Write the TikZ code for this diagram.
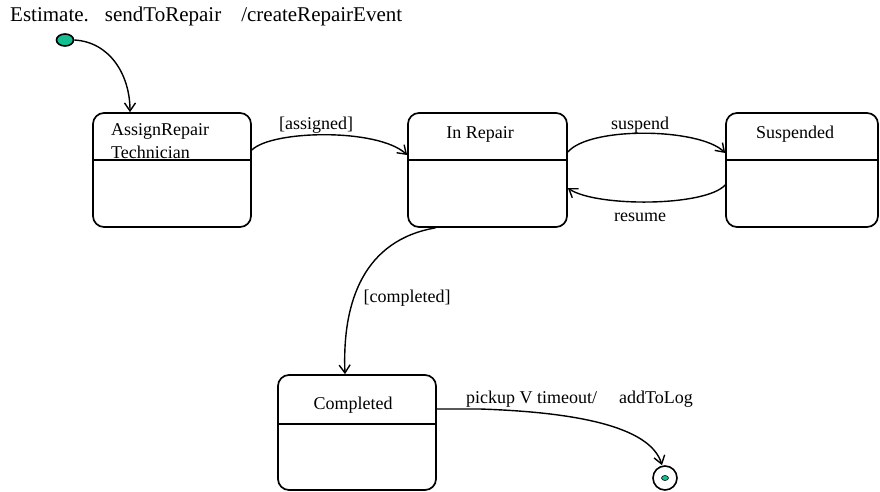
\documentclass[tikz,border=0pt]{standalone}
\usepackage{fontspec}
\setmainfont{Liberation Serif}
\usetikzlibrary{arrows.meta,shapes.geometric}
\definecolor{stategreen}{RGB}{20,190,145}
\begin{document}
\begin{tikzpicture}[x=1pt,y=-1pt,
  statebox/.style={draw,line width=1.7pt,rounded corners=11pt,minimum width=158pt,minimum height=114pt,inner sep=0pt},
  conn/.style={line width=1.4pt,-{Straight Barb[length=8pt,width=11pt,line width=1.4pt]}},
  lbl/.style={font=\fontsize{18}{22}\selectfont,inner sep=0pt},
  divider/.style={line width=1.6pt}
]
\useasboundingbox (0,0) rectangle (880,492);

% title
\node[lbl,font=\fontsize{21}{24}\selectfont,anchor=base west] (title) at (10,22) {Estimate.\hspace{16pt}sendToRepair\hspace{20pt}/createRepairEvent};

% initial state
\node[draw,line width=1.6pt,fill=stategreen,ellipse,minimum width=17pt,minimum height=12pt,inner sep=0pt] (init) at (65,40) {};

% states
\node[statebox] (assign) at (172,170) {};
\draw[divider] ([yshift=-48pt]assign.north west) -- ([yshift=-48pt]assign.north east);
\node[lbl,anchor=west,align=left,font=\fontsize{18}{23}\selectfont] (assigntxt) at (111,141) {AssignRepair\\Technician};

\node[statebox,minimum width=159pt] (inrepair) at (487.5,170) {};
\draw[divider] ([yshift=-48pt]inrepair.north west) -- ([yshift=-48pt]inrepair.north east);
\node[lbl] (inrepairtxt) at (480,134) {In Repair};

\node[statebox,minimum width=152pt] (suspended) at (802,170) {};
\draw[divider] ([yshift=-48pt]suspended.north west) -- ([yshift=-48pt]suspended.north east);
\node[lbl] (suspendedtxt) at (795,134) {Suspended};

\node[statebox,minimum height=115pt] (completed) at (357,432.5) {};
\draw[divider] ([yshift=-50pt]completed.north west) -- ([yshift=-50pt]completed.north east);
\node[lbl] (completedtxt) at (353,405) {Completed};

% final state
\node[draw,line width=1.6pt,circle,minimum size=24pt,inner sep=0pt] (final) at (665,478) {};
\node[fill=stategreen,draw=black,line width=0.6pt,ellipse,minimum width=7pt,minimum height=5pt,inner sep=0pt] (finaldot) at (final.center) {};

% transitions
\draw[conn] (init.east) .. controls (110,42) and (130,75) .. ([xshift=-42pt]assign.north);
\draw[conn] ([yshift=20pt]assign.east) .. controls (272,130) and (378,128) .. ([yshift=15pt]inrepair.west);
\node[lbl] (assignedlbl) at (316,125) {[assigned]};

\draw[conn] ([yshift=18pt]inrepair.east) .. controls (590,126) and (700,128) .. ([yshift=17pt]suspended.west);
\node[lbl] (suspendlbl) at (640,125) {suspend};

\draw[conn] ([yshift=-15pt]suspended.west) .. controls (705,207) and (595,207) .. ([yshift=-18pt]inrepair.east);
\node[lbl] (resumelbl) at (640,217) {resume};

\draw[conn] ([xshift=-52pt]inrepair.south) .. controls (365,240) and (342,300) .. ([xshift=-12pt]completed.north);
\node[lbl] (completedlbl) at (407,298) {[completed]};

\draw[conn] ([yshift=23.5pt]completed.east) -- (480,409) .. controls (570,412) and (650,425) .. ([xshift=-3pt]final.north);
\node[lbl,anchor=base west] (pickuplbl) at (466,403) {pickup V timeout/\hspace{22pt}addToLog};
\end{tikzpicture}
\end{document}
